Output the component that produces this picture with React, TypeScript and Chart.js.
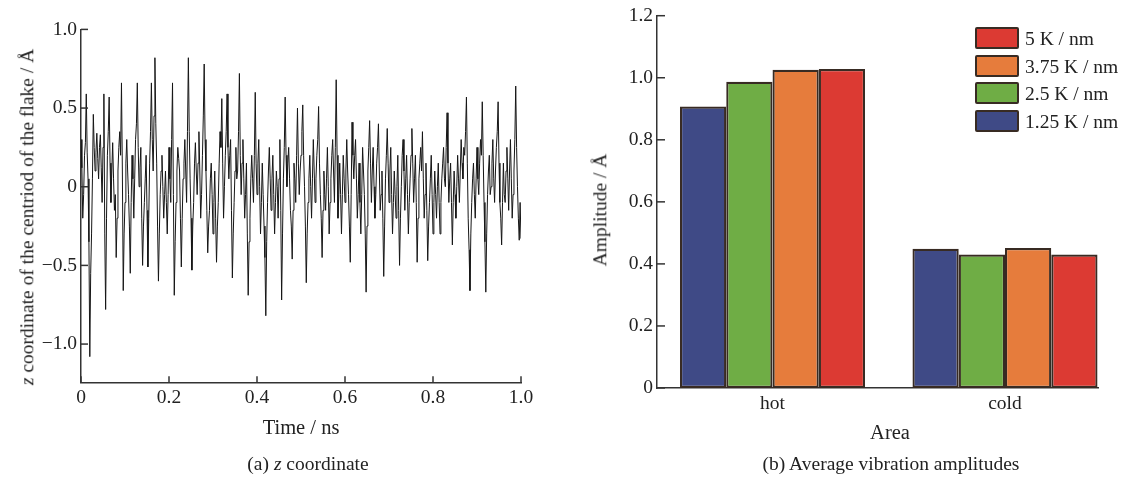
import React, { useEffect, useRef } from 'react';
import { Chart, registerables } from 'chart.js';

Chart.register(...registerables);

// ---------- Panel (a): z coordinate of the centroid vs time (0 .. 1 ns) ----------
const timeStart = 0;
const timeEnd = 1.0;
const zValues = [
  0.30, 0.12, -0.20, -0.05, 0.20, 0.28, 0.59, 0.22, 0.05, -0.35, -1.08, -0.55, -0.30, 0.05, 0.46, 0.25, 0.10, 0.22, 0.34, 0.18,
  0.05, 0.25, 0.33, 0.12, -0.10, 0.25, 0.59, -0.30, -0.78, -0.20, 0.20, 0.35, 0.57, 0.15, -0.10, 0.10, 0.28, 0.05, -0.15, -0.05,
  -0.45, -0.20, 0.10, 0.25, 0.35, 0.20, 0.66, 0.10, -0.66, -0.30, -0.10, 0.15, 0.30, 0.10, -0.05, -0.25, -0.55, -0.10, 0.20, 0.05,
  -0.20, 0.05, 0.30, 0.40, 0.66, 0.25, 0.00, 0.12, 0.25, -0.20, -0.50, -0.25, -0.10, 0.05, 0.20, -0.15, -0.51, -0.20, 0.15, 0.35,
  0.66, 0.30, 0.10, 0.45, 0.82, 0.40, 0.15, -0.25, -0.60, -0.30, -0.05, 0.10, 0.20, 0.00, -0.20, -0.05, 0.10, -0.10, -0.30, -0.05,
  0.25, 0.05, -0.10, 0.30, 0.66, -0.05, -0.69, -0.35, -0.10, 0.10, 0.25, 0.18, 0.10, -0.20, -0.51, -0.20, 0.05, 0.15, 0.30, 0.10,
  -0.10, 0.35, 0.82, 0.35, 0.05, -0.20, -0.53, -0.25, -0.10, 0.15, 0.28, 0.10, -0.05, 0.15, 0.35, 0.10, -0.20, -0.05, 0.20, 0.45,
  0.78, 0.30, 0.10, -0.15, -0.42, -0.25, -0.15, 0.05, 0.15, -0.05, -0.30, -0.10, 0.10, -0.20, -0.48, -0.25, -0.10, 0.15, 0.35, 0.25,
  0.56, 0.15, -0.20, 0.00, 0.20, 0.35, 0.59, 0.25, 0.05, 0.20, 0.30, -0.15, -0.58, -0.30, -0.10, 0.10, 0.25, 0.05, 0.10, 0.35,
  0.72, 0.20, -0.05, 0.15, 0.30, 0.05, -0.20, -0.05, 0.15, -0.30, -0.69, -0.35, -0.20, 0.05, 0.20, 0.05, -0.10, 0.20, 0.60, 0.15,
  -0.05, 0.15, 0.30, 0.00, -0.30, -0.10, 0.15, -0.05, -0.25, -0.45, -0.82, -0.35, -0.10, 0.10, 0.25, 0.05, -0.15, 0.05, 0.20, -0.05,
  -0.30, -0.10, 0.10, 0.00, -0.20, 0.05, 0.30, -0.15, -0.72, -0.30, 0.05, 0.25, 0.57, 0.20, 0.00, 0.15, 0.25, 0.05, -0.15, -0.25,
  -0.46, -0.15, 0.15, 0.05, -0.10, 0.20, 0.50, 0.15, -0.05, 0.10, 0.20, 0.35, 0.52, 0.20, 0.00, -0.25, -0.61, -0.30, -0.10, 0.05,
  0.20, 0.00, -0.20, 0.05, 0.30, 0.10, -0.10, 0.05, 0.20, 0.30, 0.51, 0.15, -0.05, -0.20, -0.45, -0.15, 0.10, -0.05, -0.15, 0.05,
  0.25, 0.00, -0.30, -0.10, 0.05, 0.20, 0.30, 0.10, -0.10, 0.25, 0.68, 0.20, -0.20, -0.05, 0.15, -0.05, -0.30, -0.05, 0.20, 0.05,
  -0.10, 0.10, 0.30, 0.10, -0.05, -0.25, -0.48, -0.05, 0.41, 0.20, 0.05, 0.20, 0.30, 0.05, -0.20, -0.05, 0.15, -0.10, -0.30, -0.05,
  0.25, 0.10, -0.05, -0.30, -0.67, -0.25, 0.10, 0.25, 0.42, 0.15, -0.10, 0.10, 0.25, 0.00, -0.20, -0.05, 0.15, 0.25, 0.40, 0.10,
  -0.15, -0.05, 0.10, -0.20, -0.57, -0.25, 0.05, 0.20, 0.37, 0.15, -0.10, 0.10, 0.25, -0.05, -0.30, -0.10, 0.10, -0.05, -0.20, 0.00,
  0.20, -0.15, -0.50, -0.20, 0.00, 0.20, 0.30, 0.10, -0.15, 0.05, 0.20, -0.05, -0.30, -0.10, 0.05, 0.20, 0.37, 0.15, -0.10, 0.05,
  0.20, -0.10, -0.48, -0.20, 0.05, 0.15, 0.25, 0.10, 0.35, 0.05, -0.20, -0.05, 0.15, -0.15, -0.47, -0.25, -0.10, 0.05, 0.20, -0.05,
  -0.30, -0.10, 0.10, -0.05, -0.20, 0.00, 0.15, -0.10, -0.30, -0.10, 0.05, 0.15, 0.25, 0.05, 0.00, 0.25, 0.47, 0.15, -0.10, 0.05,
  0.15, -0.10, -0.37, -0.10, 0.10, -0.05, -0.20, 0.00, 0.20, 0.05, -0.10, 0.10, 0.30, 0.15, 0.05, 0.25, 0.20, 0.35, 0.57, 0.15,
  -0.20, -0.40, -0.66, -0.30, -0.10, 0.05, 0.15, -0.05, -0.20, 0.05, 0.25, 0.05, -0.05, 0.15, 0.30, 0.20, 0.54, 0.20, -0.10, -0.35,
  -0.67, -0.30, -0.05, 0.10, 0.20, -0.05, 0.00, 0.15, 0.30, 0.05, -0.10, 0.10, 0.25, 0.35, 0.54, 0.15, -0.10, -0.20, -0.37, -0.10,
  0.15, -0.05, -0.10, 0.10, 0.25, 0.05, -0.15, 0.10, 0.30, 0.05, -0.20, -0.05, 0.10, 0.30, 0.64, 0.25, 0.00, -0.20, -0.34, -0.10,
  -0.33,
];
const timeTicks = [0, 0.2, 0.4, 0.6, 0.8, 1.0];
const zTicks = [-1.0, -0.5, 0, 0.5, 1.0];

// ---------- Panel (b): average vibration amplitudes ----------
const areaCategories = ['hot', 'cold'];
const seriesLabels = ['1.25 K / nm', '2.5 K / nm', '3.75 K / nm', '5 K / nm'];
const amp125 = [0.907, 0.449];
const amp25 = [0.987, 0.430];
const amp375 = [1.026, 0.451];
const amp5 = [1.028, 0.430];
const ampTicks = [0, 0.2, 0.4, 0.6, 0.8, 1.0, 1.2];

const seriesColors = ['#3F4A86', '#6FAD45', '#E67C3C', '#DC3A33'];
const barBorder = '#382b23';
const FONT = "'Liberation Serif', 'Times New Roman', serif";
const TEXT = '#222';
const AXIS = '#333';

const inwardTicks = {
  id: 'inwardTicks',
  afterDraw(chart: any, _args: any, opts: any) {
    const { ctx, chartArea } = chart;
    ctx.save();
    ctx.strokeStyle = AXIS;
    ctx.lineWidth = 1.5;
    const ys = chart.scales.y;
    if (opts.y) {
      ys.ticks.forEach((t: any) => {
        const p = ys.getPixelForValue(t.value);
        ctx.beginPath();
        ctx.moveTo(chartArea.left, p);
        ctx.lineTo(chartArea.left + opts.y, p);
        ctx.stroke();
      });
    }
    const xs = chart.scales.x;
    if (opts.x) {
      xs.ticks.forEach((t: any) => {
        const p = xs.getPixelForValue(t.value);
        ctx.beginPath();
        ctx.moveTo(p, chartArea.bottom);
        ctx.lineTo(p, chartArea.bottom - opts.x);
        ctx.stroke();
      });
    }
    ctx.restore();
  },
};

const fmtSigned = (v: number) =>
  v === 0 ? '0' : (v < 0 ? '\u2212' : '') + Math.abs(v).toFixed(1);

export default function App() {
  const refA = useRef<HTMLCanvasElement>(null);
  const refB = useRef<HTMLCanvasElement>(null);

  useEffect(() => {
    const tickFont = { family: FONT, size: 19.5 };
    const n = zValues.length;
    const chartA = new Chart(refA.current!, {
      type: 'line',
      data: {
        datasets: [
          {
            data: zValues.map((v, i) => ({
              x: timeStart + ((timeEnd - timeStart) * i) / (n - 1),
              y: v,
            })),
            borderColor: '#161616',
            borderWidth: 1,
            pointRadius: 0,
            tension: 0,
            fill: false,
          },
        ],
      },
      options: {
        animation: false,
        responsive: false,
        maintainAspectRatio: false,
        layout: { padding: { top: 29.4, right: 39, left: 0, bottom: 0 } },
        plugins: {
          legend: { display: false },
          tooltip: { enabled: false },
          inwardTicks: { x: 6, y: 7 },
        } as any,
        scales: {
          x: {
            type: 'linear',
            min: 0,
            max: 1,
            offset: false,
            grid: { display: false, drawTicks: false },
            border: { display: true, color: AXIS, width: 1.5 },
            afterBuildTicks: (s: any) => {
              s.ticks = timeTicks.map((v) => ({ value: v }));
            },
            afterFit: (s: any) => {
              s.height = 477 - 382.3;
            },
            ticks: {
              padding: 4,
              font: tickFont,
              color: TEXT,
              autoSkip: false,
              maxRotation: 0,
              callback: (v: any) => (Number(v) === 0 ? '0' : Number(v).toFixed(1)),
            },
          },
          y: {
            type: 'linear',
            min: -1.243,
            max: 1.0,
            grid: { display: false, drawTicks: false },
            border: { display: true, color: AXIS, width: 1.5 },
            afterBuildTicks: (s: any) => {
              s.ticks = zTicks.map((v) => ({ value: v }));
            },
            afterFit: (s: any) => {
              s.width = 81;
            },
            ticks: {
              padding: 4,
              font: tickFont,
              color: TEXT,
              autoSkip: false,
              callback: (v: any) => fmtSigned(Number(v)),
            },
          },
        },
      },
      plugins: [inwardTicks],
    });

    const ampSeries = [amp125, amp25, amp375, amp5];
    const chartB = new Chart(refB.current!, {
      type: 'bar',
      data: {
        datasets: seriesLabels.map((lab, k) => ({
          label: lab,
          data: ampSeries[k].map((v, i) => ({ x: i, y: v })),
          backgroundColor: seriesColors[k],
          borderColor: barBorder,
          borderWidth: 2.2,
          borderSkipped: false,
          categoryPercentage: 0.796,
          barPercentage: 1,
        })),
      },
      options: {
        animation: false,
        responsive: false,
        maintainAspectRatio: false,
        layout: { padding: { top: 15, right: 29, left: 0, bottom: 0 } },
        plugins: {
          legend: { display: false },
          tooltip: { enabled: false },
          inwardTicks: { y: 8 },
        } as any,
        scales: {
          x: {
            type: 'linear',
            min: -0.4968,
            max: 1.4,
            offset: false,
            grid: { display: false, drawTicks: false },
            border: { display: true, color: AXIS, width: 1.5 },
            afterBuildTicks: (s: any) => {
              s.ticks = areaCategories.map((_, i) => ({ value: i }));
            },
            afterFit: (s: any) => {
              s.height = 477 - 388;
            },
            ticks: {
              padding: 4,
              font: tickFont,
              color: TEXT,
              autoSkip: false,
              maxRotation: 0,
              callback: (v: any) => areaCategories[Number(v)] ?? '',
            },
          },
          y: {
            type: 'linear',
            min: 0,
            max: 1.2,
            grid: { display: false, drawTicks: false },
            border: { display: true, color: AXIS, width: 1.5 },
            afterBuildTicks: (s: any) => {
              s.ticks = ampTicks.map((v) => ({ value: v }));
            },
            afterFit: (s: any) => {
              s.width = 97;
            },
            ticks: {
              padding: 4,
              font: tickFont,
              color: TEXT,
              autoSkip: false,
              callback: (v: any) => (Number(v) === 0 ? '0' : Number(v).toFixed(1)),
            },
          },
        },
      },
      plugins: [inwardTicks],
    });

    return () => {
      chartA.destroy();
      chartB.destroy();
    };
  }, []);

  const text: React.CSSProperties = {
    position: 'absolute',
    fontFamily: FONT,
    fontSize: 19.5,
    color: TEXT,
    whiteSpace: 'nowrap',
    lineHeight: 1.2,
  };
  const centered = (x: number, y: number, rotate = false): React.CSSProperties => ({
    ...text,
    left: x,
    top: y,
    transform: `translate(-50%, -50%)${rotate ? ' rotate(-90deg)' : ''}`,
  });

  const legendOrder = [3, 2, 1, 0];
  const legendTops = [27, 54.5, 82, 109.5];

  return (
    <div
      style={{
        position: 'fixed',
        left: 0,
        top: 0,
        width: 1127,
        height: 477,
        background: '#fff',
        overflow: 'hidden',
      }}
    >
      <canvas ref={refA} width={560} height={477} style={{ position: 'absolute', left: 0, top: 0 }} />
      <canvas ref={refB} width={567} height={477} style={{ position: 'absolute', left: 560, top: 0 }} />

      {/* Panel (a) texts */}
      <div style={centered(27, 217, true)}>
        <i>z</i> coordinate of the centriod of the flake / Å
      </div>
      <div style={{ ...centered(301, 427), fontSize: 20.5 }}>Time / ns</div>
      <div style={centered(308, 464)}>
        (a) <i>z</i> coordinate
      </div>

      {/* Panel (b) texts */}
      <div style={centered(600, 210, true)}>Amplitude / Å</div>
      <div style={{ ...centered(890, 432), fontSize: 20.5 }}>Area</div>
      <div style={centered(891, 464)}>(b) Average vibration amplitudes</div>

      {/* Legend for panel (b) */}
      {legendOrder.map((k, r) => (
        <React.Fragment key={k}>
          <div
            style={{
              position: 'absolute',
              left: 975,
              top: legendTops[r],
              width: 44,
              height: 22,
              boxSizing: 'border-box',
              border: `2px solid ${barBorder}`,
              borderRadius: 2,
              background: seriesColors[k],
            }}
          />
          <div style={{ ...text, left: 1025, top: legendTops[r] + 12, transform: 'translateY(-50%)' }}>
            {seriesLabels[k]}
          </div>
        </React.Fragment>
      ))}
    </div>
  );
}
